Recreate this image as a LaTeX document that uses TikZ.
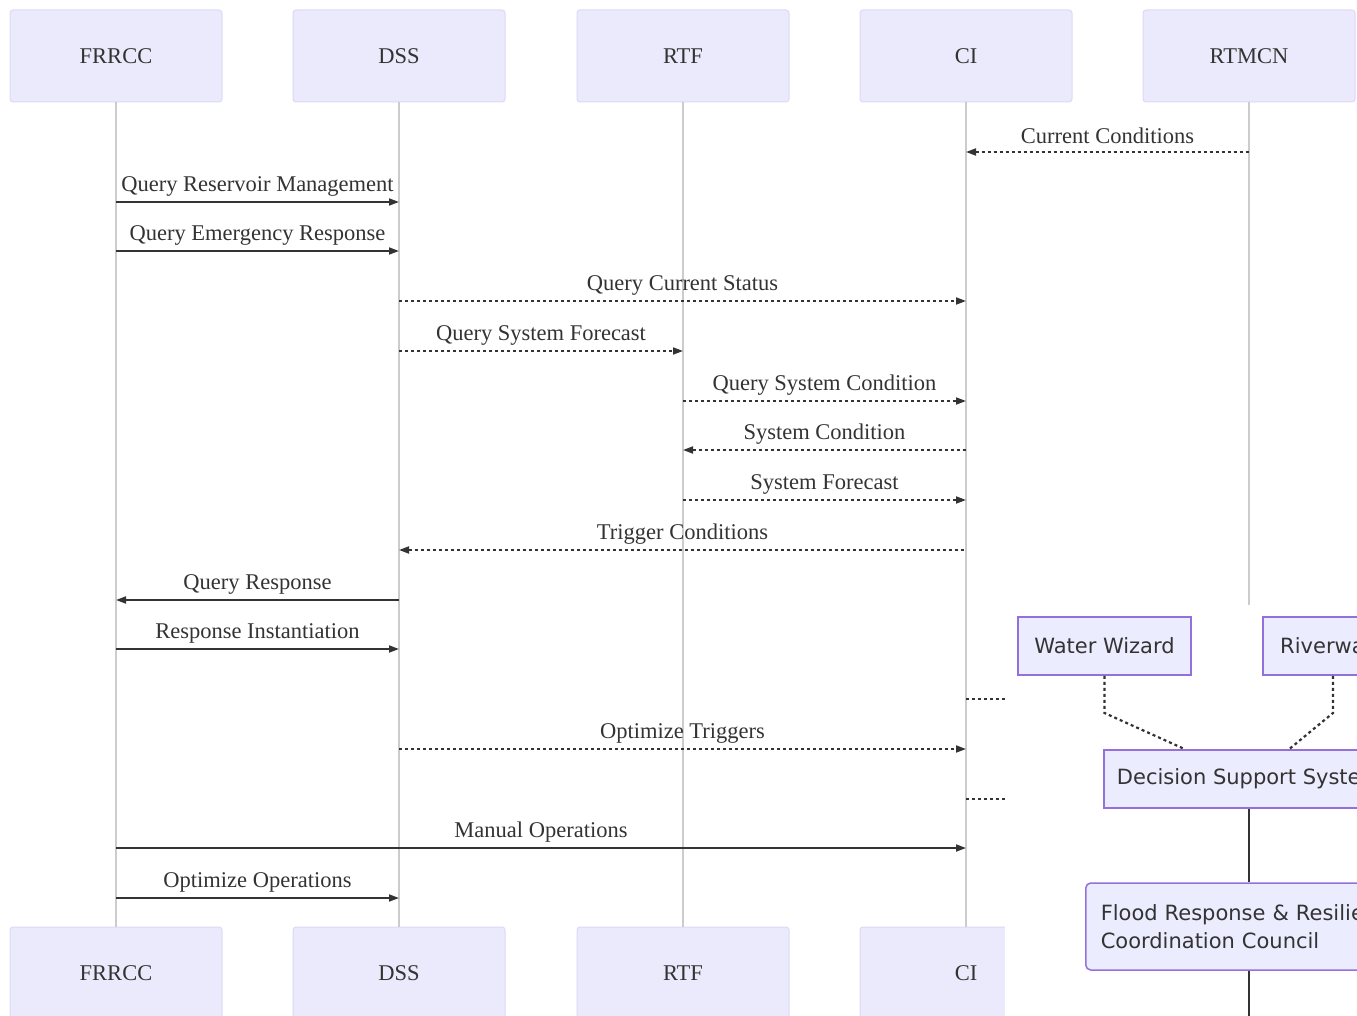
\documentclass[tikz,border=0pt]{standalone}
\usepackage{fontspec}
\setmainfont{Liberation Serif}
\newfontfamily\flowfont{DejaVu Sans}
\usetikzlibrary{arrows.meta}

\definecolor{ink}{HTML}{333333}
\definecolor{actorfill}{HTML}{EAEAFC}
\definecolor{actorline}{HTML}{DDD8F6}
\definecolor{nodefill}{HTML}{ECECFF}
\definecolor{nodeline}{HTML}{9370DB}
\definecolor{lifegray}{HTML}{CCCCCC}

% one sequence message: style, from actor, to actor, row y, label
\newcommand\seqmsg[5]{%
  \draw[#1] (#2 |- 0,#4) -- (#3 |- 0,#4)
    node[midway, yshift=16pt, msgtext] {#5};}

\begin{document}
\begin{tikzpicture}[x=1pt, y=-1pt,
  actor/.style={draw=actorline, line width=1pt, fill=actorfill, rounded corners=3pt,
    minimum width=212pt, minimum height=92pt, inner sep=0pt, text=ink,
    font=\fontsize{22.5}{27}\selectfont},
  life/.style={draw=lifegray, line width=1.5pt},
  msgtext/.style={text=ink, inner sep=0pt, font=\fontsize{22.5}{27}\selectfont},
  solidmsg/.style={draw=ink, line width=1.8pt, -{Triangle[length=10pt,width=7pt]}},
  solidback/.style={draw=ink, line width=1.8pt, {Triangle[length=10pt,width=7pt]}-},
  dotmsg/.style={draw=ink, line width=1.8pt, dash pattern=on 3pt off 3pt,
    -{Triangle[length=10pt,width=7pt]}},
  dotback/.style={draw=ink, line width=1.8pt, dash pattern=on 3pt off 3pt,
    {Triangle[length=10pt,width=7pt]}-},
  dotplain/.style={draw=ink, line width=1.8pt, dash pattern=on 3pt off 3pt},
  flownode/.style={draw=nodeline, line width=1.5pt, fill=nodefill, text=ink,
    inner sep=0pt, minimum height=58pt, font=\flowfont\fontsize{21}{28}\selectfont},
  flowlink/.style={draw=ink, line width=1.8pt},
  flowdot/.style={draw=ink, line width=2.2pt, dash pattern=on 3pt off 3pt},
]
\useasboundingbox (0,0) rectangle (1357,1016);
\clip (0,0) rectangle (1357,1016);

% actors, top row
\node[actor] (tFRRCC) at (116,56) {FRRCC};
\node[actor] (tDSS)   at (399,56) {DSS};
\node[actor] (tRTF)   at (683,56) {RTF};
\node[actor] (tCI)    at (966,56) {CI};
\node[actor] (tRTMCN) at (1249,56) {RTMCN};

% actors, bottom row
\node[actor] (bFRRCC) at (116,973) {FRRCC};
\node[actor] (bDSS)   at (399,973) {DSS};
\node[actor] (bRTF)   at (683,973) {RTF};
\node[actor] (bCI)    at (966,973) {CI};
\coordinate (endRTMCN) at (1249,927);

% lifelines
\draw[life] (tFRRCC.south) -- (bFRRCC.north);
\draw[life] (tDSS.south) -- (bDSS.north);
\draw[life] (tRTF.south) -- (bRTF.north);
\draw[life] (tCI.south) -- (bCI.north);
\draw[life] (tRTMCN.south) -- (endRTMCN);

% messages
\seqmsg{dotback}{tCI}{tRTMCN}{152}{Current Conditions}
\seqmsg{solidmsg}{tFRRCC}{tDSS}{202}{Query Reservoir Management}
\seqmsg{solidmsg}{tFRRCC}{tDSS}{251}{Query Emergency Response}
\seqmsg{dotmsg}{tDSS}{tCI}{301}{Query Current Status}
\seqmsg{dotmsg}{tDSS}{tRTF}{351}{Query System Forecast}
\seqmsg{dotmsg}{tRTF}{tCI}{401}{Query System Condition}
\seqmsg{dotback}{tRTF}{tCI}{450}{System Condition}
\seqmsg{dotmsg}{tRTF}{tCI}{500}{System Forecast}
\seqmsg{dotback}{tDSS}{tCI}{550}{Trigger Conditions}
\seqmsg{solidback}{tFRRCC}{tDSS}{600}{Query Response}
\seqmsg{solidmsg}{tFRRCC}{tDSS}{649}{Response Instantiation}
\draw[dotplain] (tCI |- 0,699) -- (tRTMCN |- 0,699);
\seqmsg{dotmsg}{tDSS}{tCI}{749}{Optimize Triggers}
\draw[dotplain] (tCI |- 0,799) -- (tRTMCN |- 0,799);
\seqmsg{solidmsg}{tFRRCC}{tCI}{848}{Manual Operations}
\seqmsg{solidmsg}{tFRRCC}{tDSS}{898}{Optimize Operations}

% flowchart panel laid over the lower right
\fill[white] (1005,605) rectangle (1400,1030);

\node[flownode, minimum width=173pt] (ww) at (1104.5,646) {Water Wizard};
\node[flownode, minimum width=140pt] (rw) at (1333,646) {Riverware};
\node[flownode, minimum width=290pt] (dsys) at (1249,779) {Decision Support System};
\node[flownode, rounded corners=5pt, minimum height=87pt, inner xsep=15pt,
  text width=330pt, align=left, anchor=west] (council) at (1085,926.5)
  {Flood Response \& Resilience\\Coordination Council};
\coordinate (below) at (1249,1040);

\draw[flowdot] (ww.south) -- (ww.south |- 0,713) -- ([xshift=-64pt]dsys.north);
\draw[flowdot] (rw.south) -- (rw.south |- 0,713) -- ([xshift=40pt]dsys.north);
\draw[flowlink] (dsys.south) -- (dsys.south |- council.north);
\draw[flowlink] (dsys.south |- council.south) -- (below);
\end{tikzpicture}
\end{document}
